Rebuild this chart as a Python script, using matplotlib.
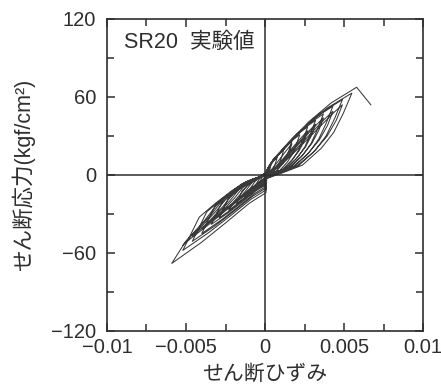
import matplotlib
matplotlib.use("Agg")
import matplotlib.pyplot as plt
from matplotlib.ticker import MultipleLocator, FixedLocator

# ---- data (strain in units of 1e-3, stress in kgf/cm^2) ----
loop_01 = [(0, 0), (0.036, 1.6), (0.104, 3.2), (0.188, 5.4), (0.288, 7.4), (0.4, 9),
           (0.36, 6.8), (0.32, 4.7), (0.26, 3.0), (0.17, 1.1), (0.07, 0.1), (0.01, -0.3),
           (0.0, -1.4), (-0.07, -2.2), (-0.17, -3.8), (-0.27, -5.3), (-0.35, -6.4), (-0.4, -7)]
loop_02 = [(-0.34, -5.3), (-0.26, -3.7), (-0.20, -2.1), (-0.10, -0.7), (-0.03, -0.2), (0.02, 0.6),
           (0.07, 2.7), (0.21, 5.4), (0.38, 9.0), (0.58, 12.3), (0.8, 15),
           (0.72, 11.3), (0.63, 7.8), (0.52, 5.0), (0.34, 1.8), (0.14, 0.2), (0.02, -0.5),
           (0.01, -2.4), (-0.14, -3.8), (-0.34, -6.5), (-0.54, -9.1), (-0.70, -10.9), (-0.8, -12)]
loop_03 = [(-0.68, -9.0), (-0.53, -6.4), (-0.39, -3.6), (-0.20, -1.2), (-0.06, -0.4), (0.04, 0.8),
           (0.11, 3.6), (0.31, 7.2), (0.56, 12.0), (0.86, 16.4), (1.2, 20),
           (1.08, 15.0), (0.95, 10.4), (0.78, 6.6), (0.52, 2.4), (0.20, 0.3), (0.02, -0.7),
           (0.01, -3.4), (-0.22, -5.4), (-0.55, -9.2), (-0.88, -12.9), (-1.14, -15.5), (-1.3, -17)]
loop_04 = [(-1.11, -12.8), (-0.86, -9.0), (-0.64, -5.1), (-0.33, -1.7), (-0.10, -0.5), (0.05, 1.0),
           (0.15, 4.7), (0.44, 9.4), (0.80, 15.6), (1.22, 21.3), (1.7, 26),
           (1.53, 19.5), (1.34, 13.5), (1.11, 8.6), (0.73, 3.1), (0.29, 0.4), (0.03, -0.9),
           (0.02, -4.4), (-0.31, -7.0), (-0.76, -11.9), (-1.22, -16.7), (-1.58, -20.0), (-1.8, -22)]
loop_04r = [(-1.44, -12.0), (-1.08, -8.0), (-0.72, -4.4), (-0.36, -1.6), (-0.09, -0.4), (0.09, 0.7),
            (0.34, 3.1), (0.77, 9.6), (1.19, 16.3), (1.50, 21.1), (1.7, 24),
            (1.56, 18.7), (1.36, 13.2), (1.05, 7.7), (0.68, 2.9), (0.26, 0.5), (0.03, -1.0),
            (0.0, -3.0), (-0.36, -5.0), (-0.81, -9.6), (-1.26, -14.4), (-1.62, -18.0), (-1.8, -20)]
loop_05 = [(-1.53, -16.5), (-1.19, -11.7), (-0.88, -6.6), (-0.45, -2.2), (-0.14, -0.7), (0.07, 1.2),
           (0.20, 5.6), (0.57, 11.2), (1.03, 18.6), (1.58, 25.4), (2.2, 31),
           (1.98, 23.3), (1.74, 16.1), (1.43, 10.2), (0.95, 3.7), (0.37, 0.5), (0.04, -1.1),
           (0.02, -5.4), (-0.39, -8.6), (-0.97, -14.6), (-1.56, -20.5), (-2.02, -24.6), (-2.3, -27)]
loop_06 = [(-1.96, -20.3), (-1.52, -14.3), (-1.13, -8.1), (-0.58, -2.7), (-0.18, -0.8), (0.08, 1.5),
           (0.24, 6.7), (0.70, 13.3), (1.27, 22.2), (1.94, 30.3), (2.7, 37),
           (2.43, 27.8), (2.13, 19.2), (1.76, 12.2), (1.16, 4.4), (0.46, 0.6), (0.05, -1.3),
           (0.03, -6.6), (-0.49, -10.6), (-1.22, -17.8), (-1.97, -25.1), (-2.55, -30.0), (-2.9, -33)]
loop_06r = [(-2.32, -18.0), (-1.74, -12.0), (-1.16, -6.6), (-0.58, -2.4), (-0.15, -0.6), (0.14, 1.0),
            (0.54, 4.4), (1.22, 13.6), (1.89, 23.1), (2.38, 29.9), (2.7, 34),
            (2.48, 26.5), (2.16, 18.7), (1.67, 10.9), (1.08, 4.1), (0.41, 0.7), (0.05, -1.5),
            (0.0, -4.5), (-0.58, -7.5), (-1.31, -14.4), (-2.03, -21.6), (-2.61, -27.0), (-2.9, -30)]
loop_07 = [(-2.47, -24.8), (-1.91, -17.5), (-1.42, -9.9), (-0.73, -3.3), (-0.23, -1.0), (0.10, 1.7),
           (0.29, 7.6), (0.83, 15.1), (1.50, 25.2), (2.30, 34.4), (3.2, 42),
           (2.88, 31.5), (2.53, 21.8), (2.08, 13.9), (1.38, 5.0), (0.54, 0.6), (0.06, -1.5),
           (0.03, -7.6), (-0.58, -12.2), (-1.43, -20.5), (-2.31, -28.9), (-2.99, -34.6), (-3.4, -38)]
loop_07r = [(-2.72, -21.0), (-2.04, -14.0), (-1.36, -7.7), (-0.68, -2.8), (-0.17, -0.7), (0.16, 1.2),
            (0.64, 5.1), (1.44, 15.6), (2.24, 26.5), (2.82, 34.3), (3.2, 39),
            (2.94, 30.4), (2.56, 21.5), (1.98, 12.5), (1.28, 4.7), (0.48, 0.8), (0.06, -1.8),
            (0.0, -5.3), (-0.68, -8.8), (-1.53, -16.8), (-2.38, -25.2), (-3.06, -31.5), (-3.4, -35)]
loop_08 = [(-2.89, -28.5), (-2.24, -20.1), (-1.67, -11.4), (-0.85, -3.8), (-0.27, -1.1), (0.11, 1.9),
           (0.33, 8.5), (0.96, 16.9), (1.74, 28.2), (2.66, 38.5), (3.7, 47),
           (3.33, 35.3), (2.92, 24.4), (2.41, 15.5), (1.59, 5.6), (0.63, 0.7), (0.07, -1.8),
           (0.04, -9.0), (-0.68, -14.4), (-1.68, -24.3), (-2.72, -34.2), (-3.52, -41.0), (-4.0, -45)]
loop_08r = [(-3.20, -24.6), (-2.40, -16.4), (-1.60, -9.0), (-0.80, -3.3), (-0.20, -0.8), (0.19, 1.3),
            (0.74, 5.7), (1.67, 17.6), (2.59, 29.9), (3.26, 38.7), (3.7, 44),
            (3.40, 34.3), (2.96, 24.2), (2.29, 14.1), (1.48, 5.3), (0.56, 0.9), (0.07, -2.1),
            (0.0, -6.2), (-0.80, -10.3), (-1.80, -19.7), (-2.80, -29.5), (-3.60, -36.9), (-4.0, -41)]
loop_09 = [(-3.40, -33.8), (-2.64, -23.9), (-1.96, -13.5), (-1.00, -4.5), (-0.32, -1.4), (0.13, 2.1),
           (0.39, 9.5), (1.12, 19.1), (2.02, 31.8), (3.10, 43.5), (4.3, 53),
           (3.87, 39.8), (3.40, 27.6), (2.80, 17.5), (1.85, 6.4), (0.73, 0.8), (0.09, -2.0),
           (0.04, -10.2), (-0.78, -16.3), (-1.93, -27.5), (-3.13, -38.8), (-4.05, -46.4), (-4.6, -51)]
loop_09r = [(-3.68, -28.2), (-2.76, -18.8), (-1.84, -10.3), (-0.92, -3.8), (-0.23, -0.9), (0.22, 1.5),
            (0.86, 6.4), (1.94, 19.6), (3.01, 33.3), (3.78, 43.1), (4.3, 49),
            (3.96, 38.2), (3.44, 27.0), (2.67, 15.7), (1.72, 5.9), (0.65, 1.0), (0.09, -2.4),
            (0.0, -7.1), (-0.92, -11.8), (-2.07, -22.6), (-3.22, -33.8), (-4.14, -42.3), (-4.6, -47)]
loop_10 = [(-3.91, -38.3), (-3.04, -27.0), (-2.25, -15.3), (-1.15, -5.1), (-0.37, -1.5), (0.15, 2.3),
           (0.44, 10.4), (1.27, 20.9), (2.30, 34.8), (3.53, 47.6), (4.9, 58),
           (4.41, 43.5), (3.87, 30.2), (3.19, 19.1), (2.11, 7.0), (0.83, 0.9), (0.10, -2.3),
           (0.05, -11.6), (-0.88, -18.6), (-2.18, -31.3), (-3.54, -44.1), (-4.58, -52.8), (-5.2, -58)]
loop_10r = [(-4.16, -32.4), (-3.12, -21.6), (-2.08, -11.9), (-1.04, -4.3), (-0.26, -1.1), (0.25, 1.6),
            (0.98, 7.0), (2.21, 21.6), (3.43, 36.7), (4.31, 47.5), (4.9, 54),
            (4.51, 42.1), (3.92, 29.7), (3.04, 17.3), (1.96, 6.5), (0.74, 1.1), (0.10, -2.7),
            (0.0, -8.1), (-1.04, -13.5), (-2.34, -25.9), (-3.64, -38.9), (-4.68, -48.6), (-5.2, -54)]
loop_11 = [(-4.42, -43.5), (-3.43, -30.7), (-2.55, -17.4), (-1.30, -5.8), (-0.42, -1.7), (0.17, 2.5),
           (0.50, 11.3), (1.43, 22.7), (2.59, 37.8), (3.96, 51.7), (5.5, 63),
           (4.95, 47.3), (4.35, 32.8), (3.58, 20.8), (2.37, 7.6), (0.94, 0.9), (0.11, -2.7),
           (0.06, -13.6), (-1.00, -21.8), (-2.48, -36.7), (-4.01, -51.7), (-5.19, -61.9), (-5.9, -68)]
loop_final = [(-5.02, -51.0), (-3.89, -36.0), (-2.89, -20.4), (-1.48, -6.8), (-0.47, -2.0), (0.17, 2.7),
              (0.52, 12.2), (1.51, 24.3), (2.73, 40.5), (4.18, 55.4), (5.8, 67.5), (6.7, 54)]

loops = [loop_01, loop_02, loop_03, loop_04, loop_04r, loop_05, loop_06, loop_06r,
         loop_07, loop_07r, loop_08, loop_08r, loop_09, loop_09r, loop_10, loop_10r,
         loop_11, loop_final]

x_ticks = [-0.01, -0.005, 0, 0.005, 0.01]
x_tick_labels = ["\u22120.01", "\u22120.005", "0", "0.005", "0.01"]
y_ticks = [-120, -60, 0, 60, 120]
y_tick_labels = ["\u2212120", "\u221260", "0", "60", "120"]

# ---- path ----
path = [p for lp in loops for p in lp]
strain = [p[0] * 1e-3 for p in path]
stress = [p[1] for p in path]

FAM = ["Liberation Sans", "Noto Sans CJK JP", "DejaVu Sans"]
plt.rcParams["font.family"] = FAM
INK = "#2e2e2e"
LINE = "#3a3a3a"

fig = plt.figure(figsize=(4.41, 3.87), dpi=100)
ax = fig.add_axes([107/441, 1 - 331/387, 316/441, 312/387])

ax.plot(strain, stress, color=LINE, lw=0.75, solid_joinstyle="round")
ax.axhline(0, color=INK, lw=1.1)
ax.axvline(0, color=INK, lw=1.1)

ax.set_xlim(-0.01, 0.01)
ax.set_ylim(-120, 120)
ax.xaxis.set_major_locator(FixedLocator(x_ticks))
ax.yaxis.set_major_locator(FixedLocator(y_ticks))
ax.set_xticklabels(x_tick_labels)
ax.set_yticklabels(y_tick_labels)
ax.xaxis.set_minor_locator(MultipleLocator(0.0025))
ax.yaxis.set_minor_locator(MultipleLocator(30))
ax.tick_params(which="both", direction="in", top=True, right=True, color=INK,
               width=1.1, labelcolor=INK)
ax.tick_params(which="major", length=6, labelsize=14.5)
ax.tick_params(which="minor", length=5)
ax.tick_params(axis="x", pad=5)
ax.tick_params(axis="y", pad=8)
for s in ax.spines.values():
    s.set_color(INK)
    s.set_linewidth(1.2)

ax.set_xlabel("せん断ひずみ", fontsize=15, color=INK, labelpad=5)
ax.set_ylabel("せん断応力(kgf/cm²)", fontsize=15.5, color=INK, labelpad=11)
ax.text(0.055, 0.925, "SR20  実験値", transform=ax.transAxes, fontsize=15.5,
        color=INK, ha="left", va="center")

fig.savefig("out.png", dpi=100)
